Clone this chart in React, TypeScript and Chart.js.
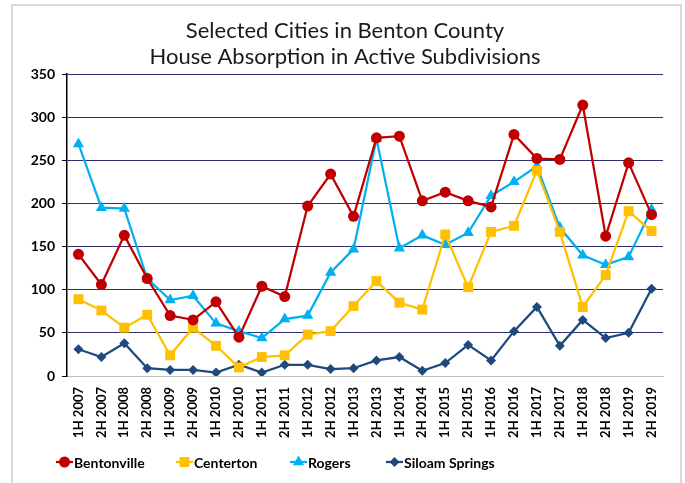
import React, { useEffect, useRef } from "react";
import { Chart, registerables } from "chart.js";

Chart.register(...registerables);

const categories = [
  "1H 2007", "2H 2007", "1H 2008", "2H 2008", "1H 2009", "2H 2009", "1H 2010", "2H 2010",
  "1H 2011", "2H 2011", "1H 2012", "2H 2012", "1H 2013", "2H 2013", "1H 2014", "2H 2014",
  "1H 2015", "2H 2015", "1H 2016", "2H 2016", "1H 2017", "2H 2017", "1H 2018", "2H 2018",
  "1H 2019", "2H 2019",
];

const bentonville = [141, 106, 163, 113, 70, 65, 86, 45, 104, 92, 197, 234, 185, 276, 278, 203, 213, 203, 196, 280, 252, 251, 314, 162, 247, 187];
const centerton = [89, 76, 56, 71, 24, 56, 35, 10, 22, 24, 48, 52, 81, 110, 85, 77, 164, 103, 167, 174, 238, 167, 80, 117, 191, 168];
const rogers = [269, 195, 194, 113, 88, 93, 61, 52, 44, 66, 70, 120, 147, 275, 148, 163, 152, 166, 209, 225, 243, 172, 140, 129, 138, 193];
const siloamSprings = [31, 22, 38, 9, 7, 7, 4, 13, 4, 13, 13, 8, 9, 18, 22, 6, 15, 36, 18, 52, 80, 35, 65, 44, 50, 101];

const seriesNames = ["Bentonville", "Centerton", "Rogers", "Siloam Springs"];
const titleLines = ["Selected Cities in Benton County", "House Absorption in Active Subdivisions"];
const yTicks = { min: 0, max: 350, step: 50 };

const FONT = "Lato, 'Open Sans', sans-serif";

const styles = [
  { color: "#C00000", pointStyle: "circle", radius: 5.5 },
  { color: "#FFC000", pointStyle: "rect", radius: 7 },
  { color: "#00B0F0", pointStyle: "triangle", radius: 6.5 },
  { color: "#1F497D", pointStyle: "rectRot", radius: 5 },
];

// legend item left edges (layout)
const legendX = [56, 176, 290, 386];

const framePlugin = {
  id: "frame",
  beforeDraw(chart: any) {
    const ctx = chart.ctx;
    ctx.save();
    ctx.fillStyle = "#ffffff";
    ctx.fillRect(0, 0, chart.width, chart.height);
    ctx.strokeStyle = "#d9d9d9";
    ctx.lineWidth = 2;
    ctx.strokeRect(12, 5, 669, 490);
    ctx.restore();
  },
};

const titlePlugin = {
  id: "customTitle",
  afterDraw(chart: any) {
    const ctx = chart.ctx;
    ctx.save();
    ctx.font = `22px ${FONT}`;
    ctx.fillStyle = "#1a1a1a";
    ctx.textAlign = "center";
    ctx.textBaseline = "middle";
    titleLines.forEach((t, i) => ctx.fillText(t, 345, 31 + i * 26.4));
    ctx.restore();
  },
};

function drawMarker(ctx: CanvasRenderingContext2D, style: string, r: number, x: number, y: number) {
  ctx.beginPath();
  if (style === "circle") {
    ctx.arc(x, y, r, 0, Math.PI * 2);
  } else if (style === "rect") {
    const s = Math.SQRT1_2 * r;
    ctx.rect(x - s, y - s, 2 * s, 2 * s);
  } else if (style === "triangle") {
    ctx.moveTo(x, y - r);
    ctx.lineTo(x + r * Math.cos(Math.PI / 6), y + r / 2);
    ctx.lineTo(x - r * Math.cos(Math.PI / 6), y + r / 2);
    ctx.closePath();
  } else {
    ctx.moveTo(x, y - r);
    ctx.lineTo(x + r, y);
    ctx.lineTo(x, y + r);
    ctx.lineTo(x - r, y);
    ctx.closePath();
  }
  ctx.fill();
}

const legendPlugin = {
  id: "customLegend",
  afterDraw(chart: any) {
    const ctx = chart.ctx;
    ctx.save();
    ctx.font = `bold 14px ${FONT}`;
    ctx.textBaseline = "middle";
    const y = 462;
    chart.data.datasets.forEach((ds: any, i: number) => {
      const st = styles[i];
      const x = legendX[i];
      ctx.strokeStyle = st.color;
      ctx.lineWidth = 2.25;
      ctx.beginPath();
      ctx.moveTo(x, y);
      ctx.lineTo(x + 17, y);
      ctx.stroke();
      ctx.fillStyle = st.color;
      drawMarker(ctx, st.pointStyle, st.radius, x + 8.5, y);
      ctx.fillStyle = "#000000";
      ctx.fillText(ds.label, x + 18, y + 1);
    });
    ctx.restore();
  },
};

export default function App() {
  const ref = useRef<HTMLCanvasElement | null>(null);

  useEffect(() => {
    if (!ref.current) return;
    const allSeries = [bentonville, centerton, rogers, siloamSprings];
    const chart = new Chart(ref.current, {
      type: "line",
      data: {
        labels: categories,
        datasets: allSeries.map((d, i) => ({
          label: seriesNames[i],
          data: d,
          borderColor: styles[i].color,
          backgroundColor: styles[i].color,
          pointBackgroundColor: styles[i].color,
          pointBorderColor: styles[i].color,
          pointStyle: styles[i].pointStyle as any,
          pointRadius: styles[i].radius,
          pointBorderWidth: 0,
          borderWidth: 2.25,
          tension: 0,
        })),
      },
      options: {
        animation: false,
        responsive: false,
        maintainAspectRatio: false,
        layout: { padding: { left: 12, right: 22, bottom: 27, top: 74 } },
        plugins: {
          legend: { display: false },
          tooltip: { enabled: false },
          title: { display: false },
        },
        scales: {
          x: {
            offset: true,
            grid: { display: false, drawTicks: false },
            border: { display: true, color: "#bfbfbf", width: 1 },
            ticks: {
              color: "#000000",
              font: { family: FONT, size: 13, weight: "bold" },
              maxRotation: 90,
              minRotation: 90,
              autoSkip: false,
              padding: 11,
            },
            afterFit(scale: any) {
              scale.height = 80;
            },
          },
          y: {
            min: yTicks.min,
            max: yTicks.max,
            grid: {
              color: (c: any) => (c.tick && c.tick.value === 0 ? "#bfbfbf" : "#2f2f6f"),
              tickColor: "#000000",
              tickLength: 5,
              lineWidth: 1,
            },
            border: { display: true, color: "#000000", width: 1.5 },
            ticks: {
              stepSize: yTicks.step,
              color: "#000000",
              font: { family: FONT, size: 14, weight: "bold" },
              padding: 7,
            },
            afterFit(scale: any) {
              scale.width = 55;
            },
          },
        },
      },
      plugins: [framePlugin, legendPlugin, titlePlugin],
    });
    return () => chart.destroy();
  }, []);

  return (
    <div style={{ position: "fixed", left: 0, top: 0, width: 685, height: 483, background: "#fff" }}>
      <canvas ref={ref} width={685} height={483} style={{ display: "block", width: 685, height: 483 }} />
    </div>
  );
}
